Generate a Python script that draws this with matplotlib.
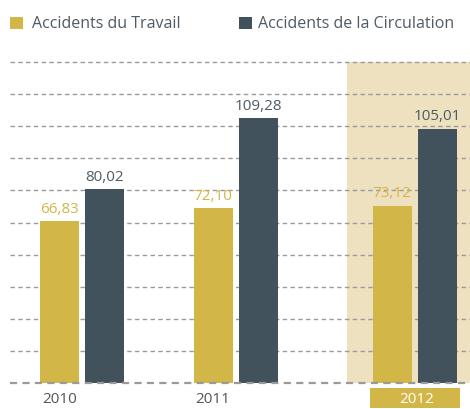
import matplotlib
matplotlib.use("Agg")
import matplotlib.pyplot as plt
from matplotlib.patches import Rectangle
import numpy as np

# ---- data ----
years = ["2010", "2011", "2012"]
travail = [66.83, 72.10, 73.12]
circulation = [80.02, 109.28, 105.01]
labels_travail = ["66,83", "72,10", "73,12"]
labels_circ = ["80,02", "109,28", "105,01"]
series_names = ["Accidents du Travail", "Accidents de la Circulation"]

# ---- style ----
GOLD = "#D3B648"
DARK = "#42525C"
HIGHLIGHT = "#EEE1C0"
TEXT = "#4E5B65"
YEARTXT = "#555555"
GRID = "#9A9A9A"
FONT = "Open Sans"
FS = 11

plt.rcParams["font.family"] = [FONT, "DejaVu Sans"]

W, H = 470, 410
fig = plt.figure(figsize=(W / 100, H / 100), dpi=100)
fig.patch.set_facecolor("white")

# axes occupies plotting area; x in pixel-like units
ax = fig.add_axes([10 / W, 1 - 384 / H, 460 / W, 321 / H])
XMIN, XMAX = 10, 470
YMAX = 132.6
ax.set_xlim(XMIN, XMAX)
ax.set_ylim(0, YMAX)
ax.axis("off")

centers = np.array([82, 235.5, 414.5])
bw = 39
off = 22.5

# highlight band for last year
ax.add_patch(Rectangle((347, 0), XMAX - 347, YMAX, facecolor=HIGHLIGHT,
                       edgecolor="none", zorder=0))

# grid lines
for yv in np.linspace(0, YMAX, 11):
    ax.plot([XMIN, XMAX], [yv, yv], color=GRID, lw=1.6 if yv == 0 else 1.0,
            ls=(0, (3.2, 2.4)), zorder=1 if yv > 0 else 3, clip_on=False)

ax.bar(centers - off, travail, width=bw, color=GOLD, zorder=2)
ax.bar(centers + off, circulation, width=bw, color=DARK, zorder=2)

for x, v, s in zip(centers - off, travail, labels_travail):
    ax.annotate(s, (x, v), xytext=(0, 4), textcoords="offset points",
                ha="center", va="bottom", color=GOLD, fontsize=FS)
for x, v, s in zip(centers + off, circulation, labels_circ):
    ax.annotate(s, (x, v), xytext=(0, 4), textcoords="offset points",
                ha="center", va="bottom", color=TEXT, fontsize=FS)

# year labels
px = YMAX / 321.0
for i, y in enumerate(years):
    if i == len(years) - 1:
        ax.add_patch(Rectangle((centers[i] - 45, -25 * px), 90, 20 * px,
                               facecolor=GOLD, edgecolor="none", clip_on=False))
        ax.text(centers[i] + 2, -16 * px, y, ha="center", va="center",
                color="white", fontsize=FS)
    else:
        ax.text(centers[i] - off, -16 * px, y, ha="center", va="center",
                color=YEARTXT, fontsize=FS)

# legend
fig.patches.append(Rectangle((10 / W, 1 - 30 / H), 13 / W, 12 / H,
                             transform=fig.transFigure, facecolor=GOLD,
                             edgecolor="none"))
fig.text(32 / W, 1 - 24 / H, series_names[0], ha="left", va="center",
         color=TEXT, fontsize=FS + 0.5)
fig.patches.append(Rectangle((239 / W, 1 - 30 / H), 13 / W, 12 / H,
                             transform=fig.transFigure, facecolor=DARK,
                             edgecolor="none"))
fig.text(258 / W, 1 - 24 / H, series_names[1], ha="left", va="center",
         color=TEXT, fontsize=FS + 0.5)

fig.savefig("out.png", dpi=100)
